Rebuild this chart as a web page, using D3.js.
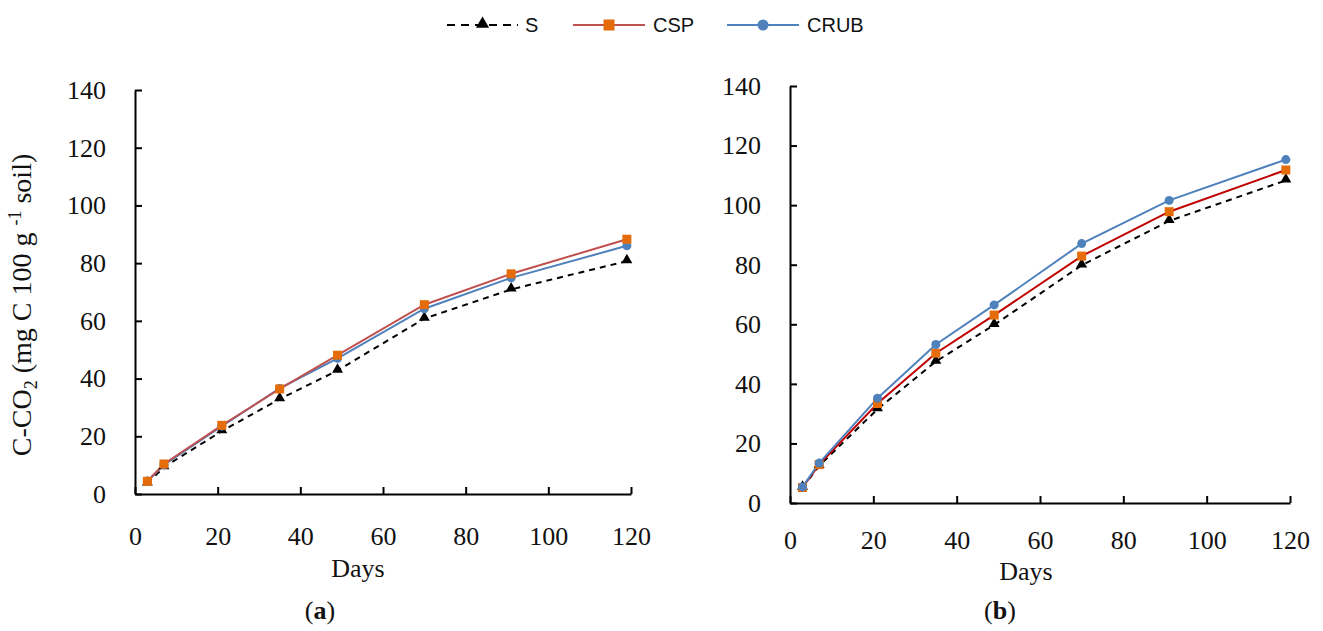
<!DOCTYPE html>
<html>
<head>
<meta charset="utf-8">
<script src="https://cdn.jsdelivr.net/npm/d3@7"></script>
<style>
  html, body { margin: 0; padding: 0; background: #fff; }
  svg { display: block; }
  .axis path, .axis line { stroke: #000; stroke-width: 2; }
  .serif, svg text.serif { font-family: "Liberation Serif", "Times New Roman", serif !important; fill: #111; }
  .legend text { font-family: "Liberation Sans", Arial, sans-serif; font-size: 20px; fill: #111; }
</style>
</head>
<body>
<svg id="chart" width="1323" height="631"></svg>
<script>
// ---------------- data ----------------
const days = [3, 7, 21, 35, 49, 70, 91, 119];
const seriesNames = ["S", "CSP", "CRUB"];
// Panel (a)
const a_S    = [3.7, 9.3, 21.8, 32.9, 42.8, 60.8, 70.9, 80.7];
const a_CSP  = [4.4, 10.4, 23.8, 36.4, 48.1, 65.6, 76.3, 88.3];
const a_CRUB = [4.4, 10.1, 23.5, 36.6, 47.0, 64.2, 74.9, 86.0];
// Panel (b)
const b_S    = [5.2, 12.5, 31.5, 47.5, 59.8, 79.8, 94.7, 108.3];
const b_CSP  = [5.2, 12.9, 33.4, 50.3, 63.1, 82.9, 97.8, 111.8];
const b_CRUB = [5.4, 13.4, 35.2, 53.2, 66.5, 87.1, 101.6, 115.3];
const xTicks = [0, 20, 40, 60, 80, 100, 120];
const yTicks = [0, 20, 40, 60, 80, 100, 120, 140];
const xLabel = "Days";
const panelLabels = ["a", "b"];

// ---------------- styles ----------------
const styles = {
  S:    { stroke: "#000000", dash: "6,5", fill: "#000000", shape: "triangle" },
  CSP:  { stroke: "#C0504D", dash: null, fill: "#E46C0A", shape: "square" },
  CRUB: { stroke: "#4F81BD", dash: null, fill: "#4F81BD", shape: "circle" }
};

const svg = d3.select("#chart");

function marker(g, shape, fill, big) {
  if (shape === "triangle") {
    g.append("path").attr("d", d3.symbol(d3.symbolTriangle, big ? 75 : 52)()).attr("fill", fill).attr("transform", "translate(0,-1)");
  } else if (shape === "square") {
    const s = big ? 11 : 9;
    g.append("rect").attr("x", -s / 2).attr("y", -s / 2).attr("width", s).attr("height", s).attr("fill", fill);
  } else {
    g.append("circle").attr("r", big ? 5.5 : 4.5).attr("fill", fill);
  }
}

function styleTicks(g) {
  g.attr("font-family", "Liberation Serif").attr("font-size", 26);
  g.selectAll(".tick text")
    .attr("class", "serif")
    .attr("font-family", "Liberation Serif")
    .attr("font-size", 26)
    .attr("fill", "#111");
}

function panel(cfg) {
  const x = d3.scaleLinear().domain([0, 120]).range([cfg.x0, cfg.x1]);
  const y = d3.scaleLinear().domain([0, 140]).range([cfg.y0, cfg.y1]);

  const gx = svg.append("g").attr("class", "axis")
    .attr("transform", `translate(0,${cfg.y0})`)
    .call(d3.axisBottom(x).tickValues(xTicks).tickSizeInner(-7).tickSizeOuter(0).tickPadding(cfg.xPad));
  styleTicks(gx);

  const gy = svg.append("g").attr("class", "axis")
    .attr("transform", `translate(${cfg.x0},0)`)
    .call(d3.axisLeft(y).tickValues(yTicks).tickSizeInner(-7).tickSizeOuter(0).tickPadding(cfg.yPad));
  styleTicks(gy);

  const line = d3.line().x((d, i) => x(days[i])).y(d => y(d));
  cfg.series.forEach(s => {
    const st = styles[s.name];
    svg.append("path").datum(s.values)
      .attr("d", line)
      .attr("fill", "none")
      .attr("stroke", s.stroke || st.stroke)
      .attr("stroke-width", 2)
      .attr("stroke-dasharray", st.dash);
  });
  cfg.series.forEach(s => {
    const st = styles[s.name];
    s.values.forEach((v, i) => {
      const g = svg.append("g").attr("transform", `translate(${x(days[i])},${y(v)})`);
      marker(g, st.shape, st.fill, false);
    });
  });

  svg.append("text").attr("class", "serif")
    .attr("x", cfg.daysX).attr("y", cfg.daysY)
    .attr("text-anchor", "middle").attr("font-size", 26)
    .text(xLabel);

  const t = svg.append("text").attr("class", "serif")
    .attr("x", cfg.labX).attr("y", cfg.labY)
    .attr("text-anchor", "middle").attr("font-size", 26);
  t.append("tspan").text("(");
  t.append("tspan").attr("font-weight", "bold").text(cfg.label);
  t.append("tspan").text(")");
}

panel({
  x0: 135, x1: 631, y0: 494, y1: 90, xPad: 33, yPad: 29,
  daysX: 358, daysY: 577, labX: 320, labY: 619, label: panelLabels[0],
  series: [
    { name: "S", values: a_S },
    { name: "CRUB", values: a_CRUB },
    { name: "CSP", values: a_CSP }
  ]
});
panel({
  x0: 790, x1: 1290, y0: 503, y1: 86, xPad: 28, yPad: 29,
  daysX: 1026, daysY: 580, labX: 1000, labY: 619, label: panelLabels[1],
  series: [
    { name: "S", values: b_S },
    { name: "CSP", values: b_CSP, stroke: "#C00000" },
    { name: "CRUB", values: b_CRUB }
  ]
});

// y-axis title
const yt = svg.append("text").attr("class", "serif")
  .attr("transform", "translate(31,305) rotate(-90)")
  .attr("text-anchor", "middle").attr("font-size", 28);
yt.append("tspan").text("C-CO");
yt.append("tspan").attr("font-size", 18).attr("dy", 6).text("2");
yt.append("tspan").attr("dy", -6).text(" (mg C 100 g ");
yt.append("tspan").attr("font-size", 18).attr("dy", -10).text("-1");
yt.append("tspan").attr("dy", 10).text(" soil)");

// legend
const legendItems = [
  { name: seriesNames[0], x1: 447, x2: 518, tx: 525 },
  { name: seriesNames[1], x1: 573, x2: 645, tx: 653 },
  { name: seriesNames[2], x1: 727, x2: 799, tx: 807 }
];
const lg = svg.append("g").attr("class", "legend");
legendItems.forEach(it => {
  const st = styles[it.name];
  lg.append("line").attr("x1", it.x1).attr("x2", it.x2).attr("y1", 25).attr("y2", 25)
    .attr("stroke", st.stroke).attr("stroke-width", 2).attr("stroke-dasharray", st.dash ? "8,6" : null);
  const g = lg.append("g").attr("transform", `translate(${(it.x1 + it.x2) / 2},25)`);
  marker(g, st.shape, st.fill, true);
  lg.append("text").attr("x", it.tx).attr("y", 32).text(it.name);
});
</script>
</body>
</html>
